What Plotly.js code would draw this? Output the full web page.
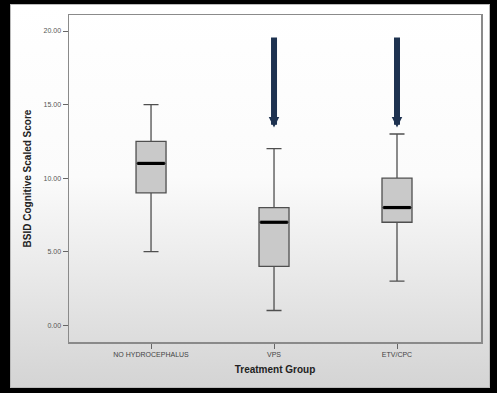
<!DOCTYPE html>
<html>
<head>
<meta charset="utf-8">
<script src="https://cdn.plot.ly/plotly-3.0.1.min.js"></script>
<style>
  html, body { margin:0; padding:0; background:#000; width:497px; height:393px; overflow:hidden; }
  #panel { position:absolute; left:10px; top:4px; width:480px; height:384px;
           background:linear-gradient(to bottom, #ffffff 0%, #fbfbfb 45%, #d4d4d4 100%);
           border:1px solid #bbb; box-sizing:border-box; }
  #chart { position:absolute; left:0; top:0; width:497px; height:393px; }
</style>
</head>
<body>
<div id="panel"></div>
<div id="chart"></div>
<script>
const categories = ["NO HYDROCEPHALUS", "VPS", "ETV/CPC"];
const lowerWhisker = [5, 1, 3];
const q1Values = [9, 4, 7];
const medianValues = [11, 7, 8];
const q3Values = [12.5, 8, 10];
const upperWhisker = [15, 12, 13];
const yTickValues = [0, 5, 10, 15, 20];
const yTickLabels = ["0.00", "5.00", "10.00", "15.00", "20.00"];
// highlight arrows (category, tail value, tip value)
const arrowCategories = ["VPS", "ETV/CPC"];
const arrowTail = [19.66, 19.66];
const arrowTip = [13.45, 13.45];

const boxHalf = 0.122;

const traces = [{
  type: "box",
  x: categories,
  q1: q1Values,
  median: medianValues,
  q3: q3Values,
  lowerfence: lowerWhisker,
  upperfence: upperWhisker,
  boxpoints: false,
  fillcolor: "#c9c9c9",
  line: { color: "#4f4f4f", width: 1.3 },
  whiskerwidth: 0.5,
  width: 2 * boxHalf,
  hoverinfo: "skip",
  showlegend: false
}];

const shapes = categories.map((c, i) => ({
  type: "line", xref: "x", yref: "y",
  x0: i - boxHalf + 0.01, x1: i + boxHalf - 0.01,
  y0: medianValues[i], y1: medianValues[i],
  line: { color: "#000", width: 3.2 }
}));

const annotations = arrowCategories.map((c, i) => ({
  x: categories.indexOf(c), y: arrowTip[i],
  ax: categories.indexOf(c), ay: arrowTail[i],
  xref: "x", yref: "y", axref: "x", ayref: "y",
  text: "", showarrow: true, arrowhead: 2, arrowsize: 0.35,
  arrowwidth: 6, arrowcolor: "#1e3250", standoff: 0, startstandoff: 0
}));

const layout = {
  width: 497, height: 393,
  margin: { l: 69, r: 16, t: 15, b: 51 },
  paper_bgcolor: "rgba(0,0,0,0)",
  plot_bgcolor: "rgba(0,0,0,0)",
  font: { family: "Liberation Sans, Arial, sans-serif", color: "#444" },
  xaxis: {
    type: "category",
    range: [-0.667, 2.683],
    showline: true, mirror: true, linecolor: "#8a8a8a", linewidth: 1.5,
    ticks: "outside", ticklen: 5, tickcolor: "#666", tickwidth: 1,
    tickfont: { size: 7, color: "#444" },
    showgrid: false, zeroline: false,
    title: { text: "Treatment Group", font: { size: 10, color: "#222", family: "Liberation Sans, Arial, sans-serif", weight: "bold" }, standoff: 9 }
  },
  yaxis: {
    range: [-1.14, 21.09],
    tickvals: yTickValues, ticktext: yTickLabels,
    showline: true, mirror: true, linecolor: "#8a8a8a", linewidth: 1.5,
    ticks: "outside", ticklen: 5, tickcolor: "#666", tickwidth: 1,
    tickfont: { size: 7, color: "#555" },
    showgrid: false, zeroline: false,
    title: { text: "BSID Cognitive Scaled Score", font: { size: 10, color: "#222", family: "Liberation Sans, Arial, sans-serif", weight: "bold" }, standoff: 10 }
  },
  shapes: shapes,
  annotations: annotations
};

Plotly.newPlot("chart", traces, layout, { displayModeBar: false, staticPlot: true });
</script>
</body>
</html>
